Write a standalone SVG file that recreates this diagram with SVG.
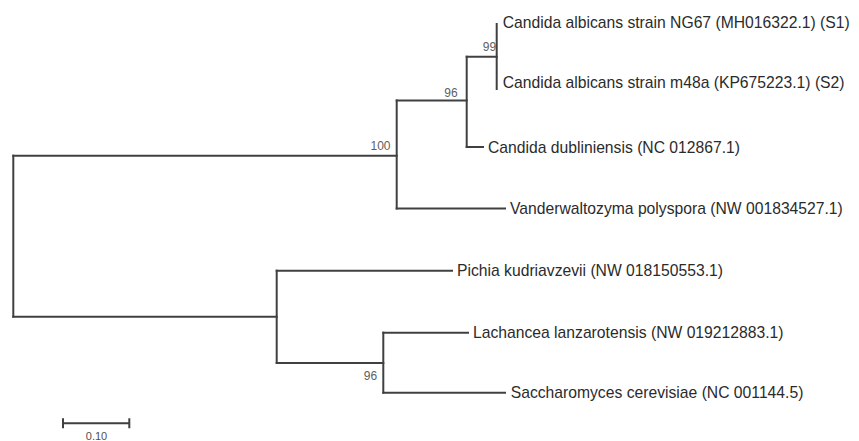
<svg xmlns="http://www.w3.org/2000/svg" width="859" height="441" viewBox="0 0 859 441">
<style>
.br{fill:none;stroke:#404040;stroke-width:2;stroke-linecap:square}
.tip{font-family:"Liberation Sans",Arial,sans-serif;font-size:15.7px;fill:#2b2b2b}
.bs{font-family:"Liberation Sans",Arial,sans-serif;font-size:12px;fill:#606060;text-anchor:middle}
.sc{font-family:"Liberation Sans",Arial,sans-serif;font-size:11px;fill:#505050;text-anchor:middle}
</style>
<rect width="859" height="441" fill="#ffffff"/>
<g id="connectors">
<path class="br" d="M13.3 155.7V316.7"/>
<path class="br" d="M13.3 155.7H396.7"/>
<path class="br" d="M396.7 100.5V208.5"/>
<path class="br" d="M396.7 100.5H466.7"/>
<path class="br" d="M466.7 56.7V147"/>
<path class="br" d="M466.7 56.7H496.7"/>
<path class="br" d="M496.7 24V89"/>
<path class="br" d="M466.7 147H483"/>
<path class="br" d="M396.7 208.5H505"/>
<path class="br" d="M13.3 316.7H276.7"/>
<path class="br" d="M276.7 270.7V363"/>
<path class="br" d="M276.7 270.7H452"/>
<path class="br" d="M276.7 363H383.3"/>
<path class="br" d="M383.3 332.7V392.7"/>
<path class="br" d="M383.3 332.7H468"/>
<path class="br" d="M383.3 392.7H505"/>
</g>
<g id="node-s1"><text class="tip" x="502.7" y="27.5">Candida albicans strain NG67 (MH016322.1) (S1)</text></g>
<g id="node-s2"><text class="tip" x="502.7" y="87.5">Candida albicans strain m48a (KP675223.1) (S2)</text></g>
<g id="node-cdub"><text class="tip" x="488" y="152.5">Candida dubliniensis (NC 012867.1)</text></g>
<g id="node-vand"><text class="tip" x="510" y="214">Vanderwaltozyma polyspora (NW 001834527.1)</text></g>
<g id="node-pichia"><text class="tip" x="457" y="276.2">Pichia kudriavzevii (NW 018150553.1)</text></g>
<g id="node-lach"><text class="tip" x="473" y="338.2">Lachancea lanzarotensis (NW 019212883.1)</text></g>
<g id="node-sacc"><text class="tip" x="510.7" y="398.2">Saccharomyces cerevisiae (NC 001144.5)</text></g>
<g id="node-b99"><text class="bs" x="489.5" y="51.3">99</text></g>
<g id="node-b96a"><text class="bs" x="451" y="97.3">96</text></g>
<g id="node-b100"><text class="bs" x="380.5" y="150.3">100</text></g>
<g id="node-b96b"><text class="bs" x="370.5" y="380.3">96</text></g>
<g id="scalebar">
<path class="br" d="M63 423.3H129.3M63 419.3V427.3M129.3 419.3V427.3" stroke-linecap="butt"/>
<text class="sc" x="96.5" y="439.5">0.10</text>
</g>
</svg>
